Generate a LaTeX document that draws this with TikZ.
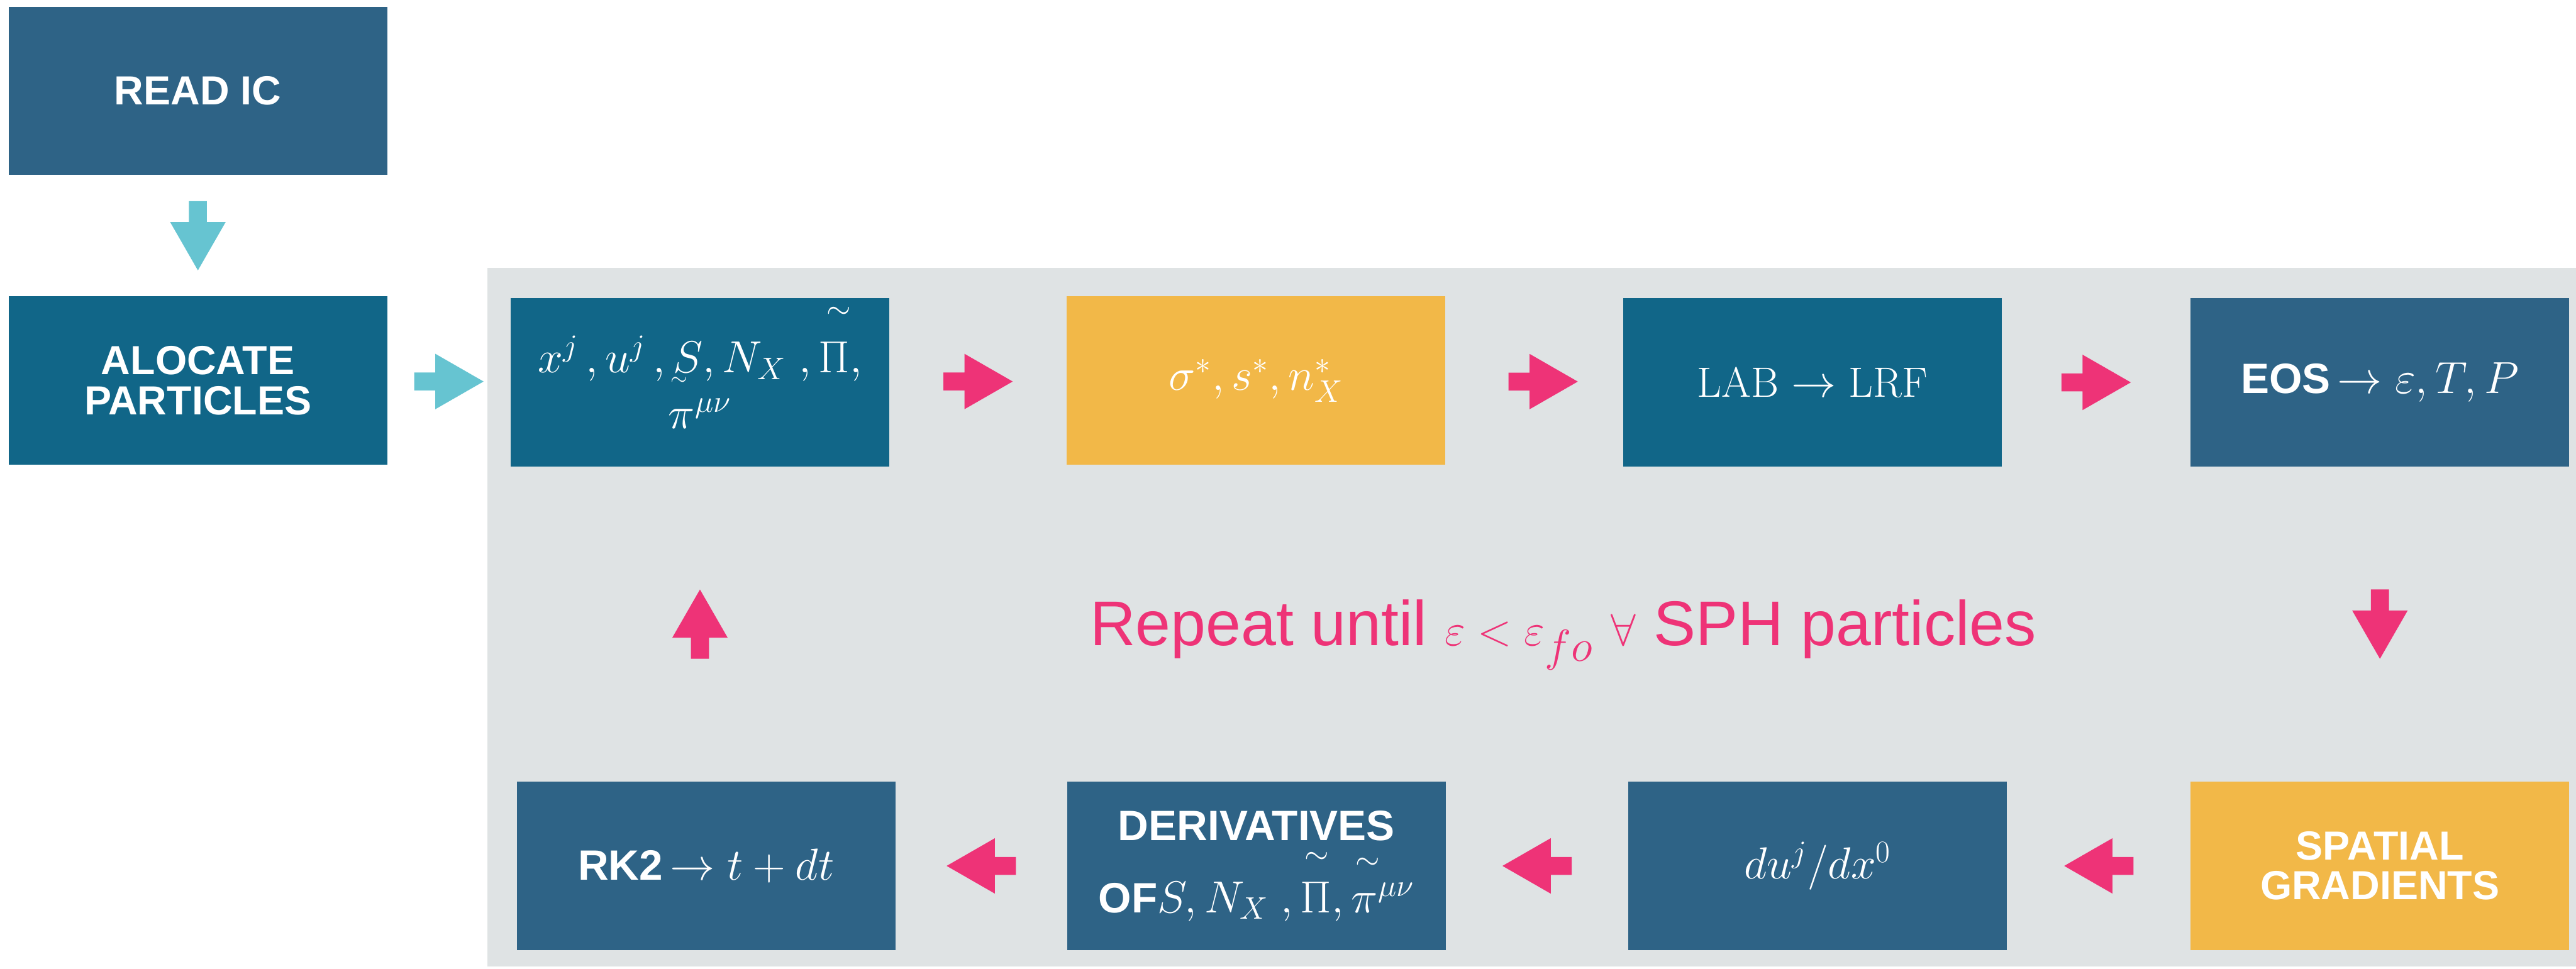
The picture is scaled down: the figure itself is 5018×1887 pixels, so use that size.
\documentclass[tikz,border=0pt]{standalone}
\usepackage{amsmath}
\usepackage{fontspec}
\setmainfont{Liberation Sans}
\setmathrm{Latin Modern Roman}
\usetikzlibrary{calc}
\definecolor{dblue}{HTML}{2E6386}
\definecolor{tblue}{HTML}{116688}
\definecolor{orng}{HTML}{F2B848}
\definecolor{pinkc}{HTML}{EE3377}
\definecolor{cyanc}{HTML}{66C4D1}
\definecolor{panelc}{HTML}{DFE3E4}
% raised tilde over a symbol
\newcommand{\hitilde}[3]{\mathord{\rlap{\kern#2\smash{\raisebox{#1}{$\scriptstyle\sim$}}}#3}}
\newcommand{\lotilde}[1]{\mathord{\rlap{\kern-0.05em\smash{\raisebox{-7pt}{$\scriptscriptstyle\sim$}}}#1}}
\tikzset{
  blockarrow/.pic={\fill (-67.5,-17.5) -- (-26.5,-17.5) -- (-26.5,-54) -- (67.5,0) -- (-26.5,54) -- (-26.5,17.5) -- (-67.5,17.5) -- cycle;},
  box/.style={minimum width=7.37cm, minimum height=3.28cm, inner sep=0pt, text=white,
    align=center, font=\fontsize{22.5}{22}\selectfont\bfseries},
  mathbox/.style={box, font=\fontsize{23.5}{22}\selectfont\bfseries}
}
\begin{document}
\begin{tikzpicture}[x=0.01cm,y=-0.01cm]
\useasboundingbox (0,0) rectangle (5018,1887);
\fill[panelc] (950,522) rectangle (5018,1883);

\node[box, fill=dblue] (readic) at (385.5,177) {READ IC};
\node[box, fill=tblue] (alloc) at (385.5,741.5) {ALOCATE\\PARTICLES};

\node[mathbox, fill=tblue] (b1) at (1363.5,745)
  {$x^j\,, u^j\,,\lotilde{S}, N_X\;, \hitilde{30pt}{0.2em}{\Pi},$\\[9pt] $\pi^{\mu\nu}$};
\node[mathbox, fill=orng] (b2) at (2447,741.5) {$\sigma^*, s^*, n_X^*$};
\node[mathbox, fill=tblue] (b3) at (3530.5,745) {$\mathrm{LAB}\rightarrow\mathrm{LRF}$};
\node[mathbox, fill=dblue] (b4) at (4636,745) {EOS\,$\rightarrow \varepsilon, T, P$};
\node[box, fill=orng] (b5) at (4636,1687) {SPATIAL\\GRADIENTS};
\node[mathbox, fill=dblue] (b6) at (3541,1687) {$du^j/dx^0$};
\node[mathbox, fill=dblue] (b7) at (2447.5,1687)
  {DERIVATIVES\\[18pt] OF$S, N_X\;, \hitilde{27pt}{0.1em}{\Pi}, \hitilde{24pt}{0.1em}{\pi}^{\mu\nu}$};
\node[mathbox, fill=dblue] (b8) at (1375.5,1687) {RK2\,$\rightarrow t+dt$};

\node[text=pinkc, anchor=base, font=\fontsize{35}{38}\selectfont] (rep) at (3045,1257)
  {Repeat until $\varepsilon < \varepsilon_{fo}$ $\forall$ SPH particles};

% connectors (block arrows)
\pic[cyanc, rotate=-90] at ($(readic.south)!0.5!(alloc.north)$) {blockarrow};
\pic[cyanc] at ($(alloc.east)!0.5!(b1.west)$) {blockarrow};
\pic[pinkc] at ($(b1.east)!0.5!(b2.west)$) {blockarrow};
\pic[pinkc] at ($(b2.east)!0.55!(b3.west)$) {blockarrow};
\pic[pinkc] at ($(b3.east)!0.5!(b4.west)$) {blockarrow};
\pic[pinkc, rotate=-90] at ($(b4.south)!0.5!(b5.north)$) {blockarrow};
\pic[pinkc, rotate=180] at ($(b5.west)!0.5!(b6.east)$) {blockarrow};
\pic[pinkc, rotate=180] at ($(b6.west)!0.5!(b7.east)$) {blockarrow};
\pic[pinkc, rotate=180] at ($(b7.west)!0.5!(b8.east)$) {blockarrow};
\pic[pinkc, rotate=90] at ($(b1.south)!0.5!(b1.south|-b8.north)$) {blockarrow};
\end{tikzpicture}
\end{document}
